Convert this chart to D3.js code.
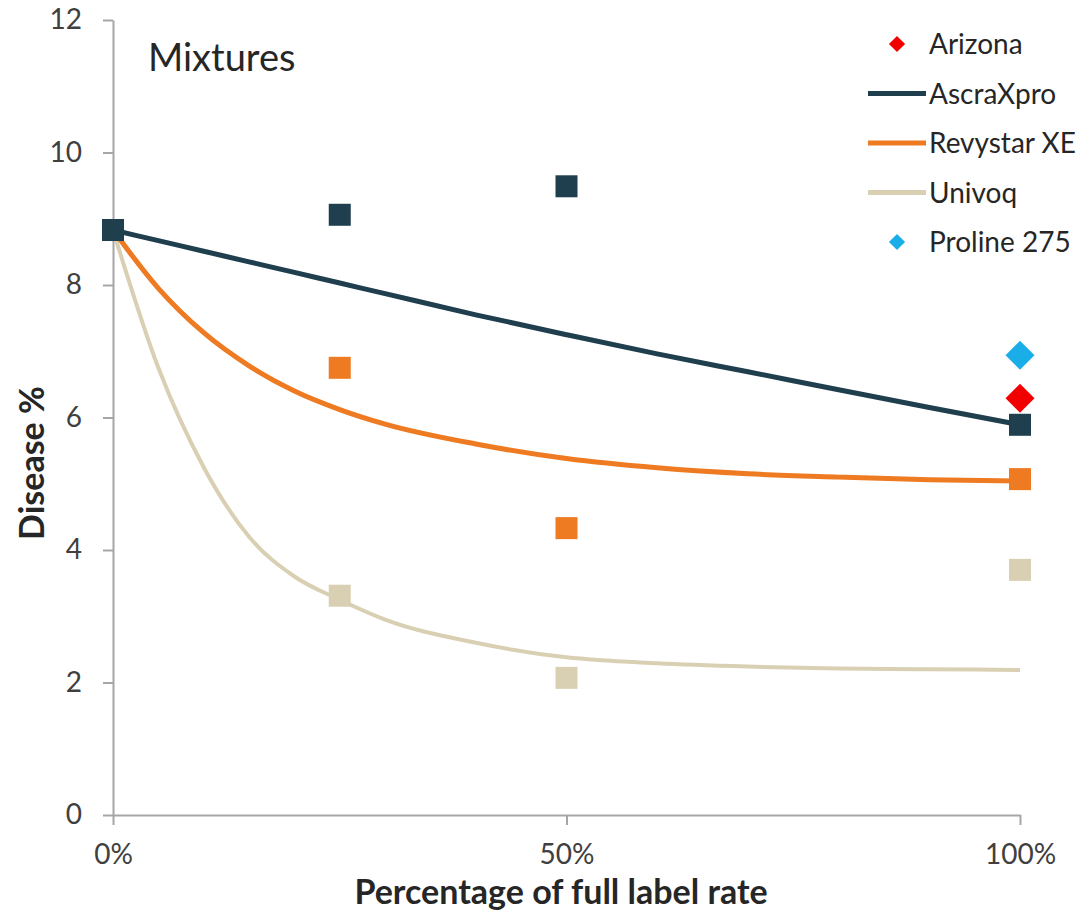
<!DOCTYPE html>
<html lang="en">
<head>
<meta charset="UTF-8">
<title>Mixtures - Disease %</title>
<script src="https://d3js.org/d3.v7.min.js"></script>
<style>
    body { margin: 0; background: #fff; }
    svg text { font-family: Lato, "Open Sans", sans-serif; fill: #262626; }
    .axis path, .axis line { stroke: #a6a6a6; stroke-width: 2px; }
    .axis text { font-size: 28px; fill: #404040; }
</style>
</head>
<body>
<div id="chart"></div>
<script>
// measured points (x = % of full label rate)
const rates = [0, 25, 50, 100];
const ascraPts = [8.83, 9.06, 9.49, 5.89];
const revystarPts = [8.83, 6.75, 4.33, 5.07];
const univoqPts = [8.83, 3.31, 2.07, 3.70];

// fitted trend lines
const fitX = [0, 5, 10, 15, 20, 25, 30, 40, 50, 60, 70, 80, 90, 100];
const ascraFit = [8.83, 8.67, 8.51, 8.35, 8.19, 8.03, 7.87, 7.55, 7.25, 6.96, 6.69, 6.42, 6.15, 5.89];
const revystarFit = [8.83, 7.95, 7.28, 6.78, 6.40, 6.12, 5.90, 5.60, 5.38, 5.24, 5.15, 5.10, 5.06, 5.04];
const univoqFit = [8.83, 6.75, 5.25, 4.20, 3.60, 3.25, 2.95, 2.60, 2.38, 2.29, 2.24, 2.21, 2.20, 2.19];

// single products at full rate
const arizona = {x: 100, y: 6.29};
const proline = {x: 100, y: 6.94};

const xTicks = [0, 50, 100];
const yTicks = [0, 2, 4, 6, 8, 10, 12];

const colors = {
    ascra: '#1f3e4e',
    revystar: '#ee7a22',
    univoq: '#d9d0b3',
    arizona: '#f20000',
    proline: '#1aaee8'
};

const width = 1084, height = 914;
const margin = {top: 20, right: 64, bottom: 99, left: 113};

const svg = d3.select('#chart').append('svg')
    .attr('width', width)
    .attr('height', height);

const x = d3.scaleLinear().domain([0, 100]).range([margin.left, width - margin.right]);
const y = d3.scaleLinear().domain([0, 12]).range([height - margin.bottom, margin.top]);

// axes
svg.append('g')
    .attr('class', 'axis')
    .attr('transform', `translate(0,${y(0)})`)
    .call(d3.axisBottom(x).tickValues(xTicks).tickFormat(d => d + '%').tickSize(10).tickSizeOuter(0).tickPadding(19));

svg.append('g')
    .attr('class', 'axis')
    .attr('transform', `translate(${x(0)},0)`)
    .call(d3.axisLeft(y).tickValues(yTicks).tickSize(10).tickSizeOuter(0).tickPadding(21));

// axis titles
svg.append('text')
    .attr('x', 561)
    .attr('y', 904)
    .attr('text-anchor', 'middle')
    .style('font-size', '34px')
    .style('font-weight', 'bold')
    .text('Percentage of full label rate');

svg.append('text')
    .attr('transform', `translate(44,463) rotate(-90)`)
    .attr('text-anchor', 'middle')
    .style('font-size', '34px')
    .style('font-weight', 'bold')
    .text('Disease %');

svg.append('text')
    .attr('x', 148)
    .attr('y', 71)
    .style('font-size', '38px')
    .text('Mixtures');

// trend lines
const line = d3.line()
    .x(d => x(d[0]))
    .y(d => y(d[1]))
    .curve(d3.curveMonotoneX);

const fits = [
    {vals: univoqFit, color: colors.univoq, w: 4},
    {vals: revystarFit, color: colors.revystar, w: 5},
    {vals: ascraFit, color: colors.ascra, w: 5}
];
fits.forEach(f => {
    svg.append('path')
        .datum(fitX.map((v, i) => [v, f.vals[i]]))
        .attr('d', line)
        .attr('fill', 'none')
        .attr('stroke', f.color)
        .attr('stroke-width', f.w);
});

// square markers
const sq = 22;
const series = [
    {vals: univoqPts, color: colors.univoq},
    {vals: revystarPts, color: colors.revystar},
    {vals: ascraPts, color: colors.ascra}
];
series.forEach(s => {
    svg.append('g')
        .selectAll('rect')
        .data(rates.map((r, i) => [r, s.vals[i]]))
        .enter().append('rect')
        .attr('x', d => x(d[0]) - sq / 2)
        .attr('y', d => y(d[1]) - sq / 2)
        .attr('width', sq)
        .attr('height', sq)
        .attr('fill', s.color);
});

// diamonds
const diamond = d3.symbol().type(d3.symbolSquare).size(420);
[{p: arizona, color: colors.arizona}, {p: proline, color: colors.proline}].forEach(d => {
    svg.append('path')
        .attr('d', diamond())
        .attr('transform', `translate(${x(d.p.x)},${y(d.p.y)}) rotate(45)`)
        .attr('fill', d.color);
});

// legend
const legendItems = [
    {name: 'Arizona', type: 'diamond', color: colors.arizona},
    {name: 'AscraXpro', type: 'line', color: colors.ascra},
    {name: 'Revystar XE', type: 'line', color: colors.revystar},
    {name: 'Univoq', type: 'line', color: colors.univoq},
    {name: 'Proline 275', type: 'diamond', color: colors.proline}
];
const legend = svg.append('g').attr('transform', 'translate(868,44)');
legendItems.forEach((item, i) => {
    const g = legend.append('g').attr('transform', `translate(0,${i * 49.5})`);
    if (item.type === 'line') {
        g.append('line')
            .attr('x1', 0).attr('x2', 58)
            .attr('y1', 0).attr('y2', 0)
            .attr('stroke', item.color)
            .attr('stroke-width', 5);
    } else {
        g.append('path')
            .attr('d', d3.symbol().type(d3.symbolSquare).size(130)())
            .attr('transform', 'translate(29,0) rotate(45)')
            .attr('fill', item.color);
    }
    g.append('text')
        .attr('x', 61)
        .attr('y', 10)
        .style('font-size', '28px')
        .text(item.name);
});
</script>
</body>
</html>
